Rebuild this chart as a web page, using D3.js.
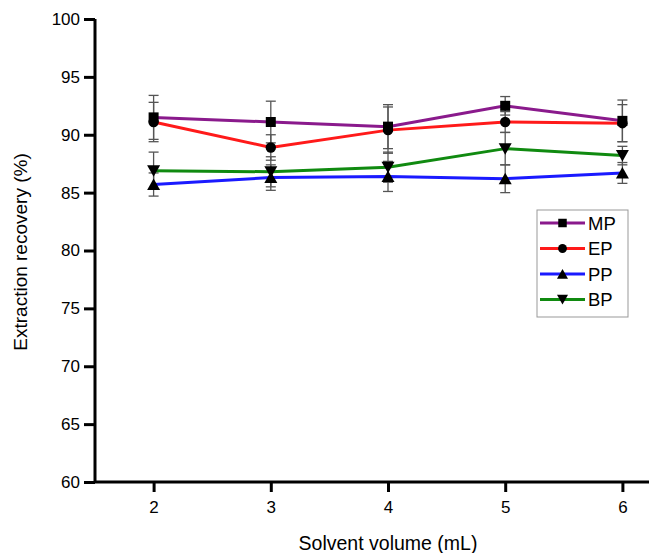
<!DOCTYPE html>
<html>
<head>
<meta charset="utf-8">
<script src="https://cdn.jsdelivr.net/npm/d3@7/dist/d3.min.js"></script>
<style>
  html, body { margin: 0; padding: 0; background: #fff; }
  svg { display: block; font-family: "Liberation Sans", Arial, sans-serif; }
</style>
</head>
<body>
<svg id="chart" width="649" height="553"></svg>
<script>
// Solvent volume (mL) on the x axis
const volumes = [2, 3, 4, 5, 6];
// Extraction recovery (%) for each paraben
const mpValues = [91.5, 91.1, 90.7, 92.5, 91.2];
const epValues = [91.1, 88.9, 90.4, 91.1, 91.0];
const ppValues = [85.7, 86.3, 86.4, 86.2, 86.7];
const bpValues = [86.9, 86.8, 87.2, 88.8, 88.2];
// Standard deviations
const mpErrors = [1.9, 1.8, 1.9, 0.8, 1.8];
const epErrors = [1.7, 1.1, 2.0, 0.9, 1.6];
const ppErrors = [1.0, 1.1, 1.3, 1.2, 0.9];
const bpErrors = [1.6, 1.3, 1.3, 1.4, 0.8];
const seriesNames = ["MP", "EP", "PP", "BP"];
const yTicks = [60, 65, 70, 75, 80, 85, 90, 95, 100];

const series = [
  { name: seriesNames[0], values: mpValues, errors: mpErrors, color: "#8a1a8c", symbol: "square" },
  { name: seriesNames[1], values: epValues, errors: epErrors, color: "#ff1a1a", symbol: "circle" },
  { name: seriesNames[2], values: ppValues, errors: ppErrors, color: "#1a1aff", symbol: "up" },
  { name: seriesNames[3], values: bpValues, errors: bpErrors, color: "#108a10", symbol: "down" }
];

const svg = d3.select("#chart");
const plotLeft = 95, plotBottom = 482, plotTop = 19;

const x = d3.scaleLinear().domain([1.5, 6.5]).range([plotLeft, plotLeft + 5 * 117.2]);
const y = d3.scaleLinear().domain([60, 100]).range([plotBottom, plotTop]);

function markerPath(sym) {
  if (sym === "square") return "M-5,-5H5V5H-5Z";
  if (sym === "circle") return d3.symbol(d3.symbolCircle, 85)();
  if (sym === "up") return "M0,-6L6.5,5.5H-6.5Z";
  return "M0,6L6.5,-5.5H-6.5Z";
}

// error bars
const eb = svg.append("g").attr("stroke", "#555").attr("stroke-width", 1.3).attr("fill", "none");
series.forEach(s => {
  s.values.forEach((v, i) => {
    const cx = x(volumes[i]);
    const hi = y(v + s.errors[i]), lo = y(v - s.errors[i]);
    eb.append("line").attr("x1", cx).attr("x2", cx).attr("y1", hi).attr("y2", lo);
    eb.append("line").attr("x1", cx - 5).attr("x2", cx + 5).attr("y1", hi).attr("y2", hi);
    eb.append("line").attr("x1", cx - 5).attr("x2", cx + 5).attr("y1", lo).attr("y2", lo);
  });
});

// lines
const line = d3.line().x((d, i) => x(volumes[i])).y(d => y(d));
series.forEach(s => {
  svg.append("path").datum(s.values).attr("d", line)
    .attr("fill", "none").attr("stroke", s.color).attr("stroke-width", 3);
});

// markers
series.forEach(s => {
  svg.append("g").selectAll("path").data(s.values).join("path")
    .attr("d", markerPath(s.symbol))
    .attr("transform", (d, i) => `translate(${x(volumes[i])},${y(d)})`)
    .attr("fill", "#000");
});

// axes
const yAxis = d3.axisLeft(y).tickValues(yTicks).tickSize(11).tickPadding(4);
const gy = svg.append("g").attr("transform", `translate(${plotLeft},0)`).call(yAxis);
const xAxis = d3.axisBottom(x).tickValues(volumes).tickSize(10).tickPadding(9).tickFormat(d3.format("d"));
const gx = svg.append("g").attr("transform", `translate(0,${plotBottom})`).call(xAxis);
[gy, gx].forEach(g => {
  g.select(".domain").attr("stroke", "#000").attr("stroke-width", 3);
  g.selectAll(".tick line").attr("stroke", "#000").attr("stroke-width", 3);
  g.selectAll(".tick text").attr("fill", "#000").style("font-size", "17px")
    .style("font-family", "'Liberation Sans', Arial, sans-serif");
});
gy.select(".domain").attr("d", `M0,${plotTop}V${plotBottom}`);
gx.select(".domain").attr("d", `M${plotLeft},0H649`);

// axis titles
svg.append("text").attr("x", 388).attr("y", 550).attr("text-anchor", "middle")
  .style("font-size", "19.5px").text("Solvent volume (mL)");
svg.append("text").attr("transform", "translate(27,252) rotate(-90)").attr("text-anchor", "middle")
  .style("font-size", "19px").text("Extraction recovery (%)");

// legend
const lg = svg.append("g").attr("transform", "translate(537,210)");
lg.append("rect").attr("width", 91).attr("height", 107)
  .attr("fill", "#fff").attr("stroke", "#999").attr("stroke-width", 1);
series.forEach((s, i) => {
  const yy = 13 + i * 25.5;
  lg.append("line").attr("x1", 3).attr("x2", 48).attr("y1", yy).attr("y2", yy)
    .attr("stroke", s.color).attr("stroke-width", 3);
  lg.append("path").attr("d", markerPath(s.symbol)).attr("transform", `translate(25.5,${yy}) scale(0.85)`)
    .attr("fill", "#000");
  lg.append("text").attr("x", 51).attr("y", yy + 6.5).style("font-size", "18.5px").text(s.name);
});
</script>
</body>
</html>
